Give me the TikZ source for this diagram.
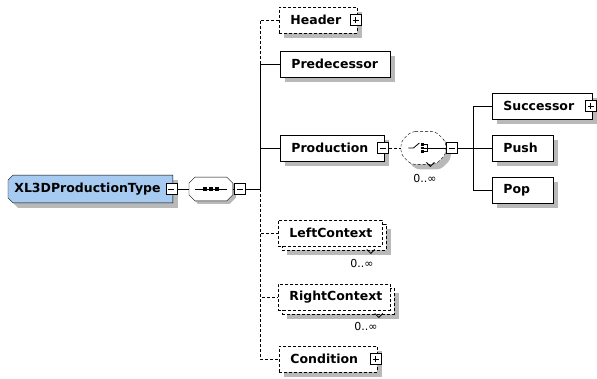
\documentclass[tikz,border=0pt]{standalone}
\usepackage{fontspec}
\setmainfont{DejaVu Sans}
\usepackage{tikz}
\usetikzlibrary{shadows, backgrounds}
\definecolor{typefill}{RGB}{166, 202, 240}
\definecolor{shadowgray}{RGB}{185, 185, 185}

\begin{document}
\begin{tikzpicture}[x=1pt, y=-1pt, line width=0.8pt,
    shadowed/.style={drop shadow={shadow xshift=#1, shadow yshift=-#1, fill=shadowgray, opacity=1}},
    shadowed/.default=5pt,
    optline/.style={dash pattern=on 3pt off 2pt},
    elem/.style={draw, fill=white, anchor=west, align=left, minimum height=26pt,
        inner xsep=11pt, inner ysep=0pt, font=\bfseries\fontsize{12.5}{14}\selectfont},
    need/.style={elem, shadowed},
    opt/.style={elem, optline, shadowed},
    rep/.style={elem, optline, shadowed=9pt,
        copy shadow={shadow xshift=4pt, shadow yshift=-4pt, line width=0.8pt}},
    hold/.style={rectangle, anchor=west, inner sep=0pt},
    minus/.style={draw, fill=white, minimum size=11pt, inner sep=0pt, line width=0.6pt,
        path picture={\draw[line width=0.7pt] ([xshift=2.5pt]path picture bounding box.west)
            -- ([xshift=-2.5pt]path picture bounding box.east);}},
    plus/.style={draw, fill=white, minimum size=11pt, inner sep=0pt, line width=0.6pt,
        path picture={\draw[line width=0.7pt] ([xshift=2.5pt]path picture bounding box.west)
            -- ([xshift=-2.5pt]path picture bounding box.east)
            ([yshift=2.5pt]path picture bounding box.south)
            -- ([yshift=-2.5pt]path picture bounding box.north);}},
    occ/.style={font=\fontsize{11}{12}\selectfont, inner sep=0pt}]
    \useasboundingbox (0,0) rectangle (597,379);

    % Complex type
    \node[elem, draw=none, fill=none, inner xsep=6pt, minimum height=27pt, text width=152pt]
        (type) at (8,189) {XL3DProductionType};
    \node[minus] (typebtn) at ([xshift=-1.5pt]type.east) {};

    % Sequence
    \node[hold, minimum width=43pt, minimum height=23pt] (seq) at (189,189) {};
    \draw ([xshift=6pt]seq.west) -- ([xshift=-6pt]seq.east);
    \foreach \dx in {-6,0,6}
        \fill ([xshift=\dx pt]seq.center) ++(-1.7,-1.7) rectangle ++(3.4,3.4);
    \node[minus] (seqbtn) at ([xshift=7pt]seq.east) {};
    \coordinate (trunk) at (260,189);
    \draw (typebtn) -- (seq);
    \draw (seq) -- (seqbtn);
    \draw (seqbtn) -- (trunk);

    % Children of the sequence
    \node[opt, text width=56pt] (header) at (279,20) {Header};
    \node[plus] (headerbtn) at ([xshift=-2pt]header.east) {};
    \node[need, text width=88pt] (pred) at (280,64) {Predecessor};
    \node[need, text width=82pt] (prod) at (280,148) {Production};
    \node[minus] (prodbtn) at ([xshift=-2pt]prod.east) {};
    \node[rep, text width=82pt] (left) at (278,233) {LeftContext};
    \node[rep, text width=90pt] (right) at (278,297) {RightContext};
    \node[opt, text width=76pt] (cond) at (279,359) {Condition};
    \node[plus] (condbtn) at ([xshift=-2pt]cond.east) {};
    \foreach \n in {header, left, right, cond}
        \draw[optline] (trunk) |- (\n.west);
    \foreach \n in {pred, prod}
        \draw (trunk) |- (\n.west);

    % Repetition marks
    \draw ([shift={(-16pt,-3pt)}]left.south east) -- ++(4,4) -- ++(4,-4);
    \draw ([shift={(-16pt,-3pt)}]right.south east) -- ++(4,4) -- ++(4,-4);
    \node[occ] (leftocc) at (362,263) {0..∞};
    \node[occ] (rightocc) at (366,326) {0..∞};

    % Choice
    \node[hold, minimum width=44pt, minimum height=32pt] (choice) at (401,148) {};
    \draw[optline] (prodbtn) -- (choice);
    \begin{scope}[shift={(choice.center)}]
        \draw (-15,0) -- (-10,0) -- (-4,-5);
        \foreach \y in {-3.5,0,3.5}
            \fill (-2.5,\y-1.3) rectangle (0.5,\y+1.3);
        \draw (0.5,-3.5) -- (3.5,-3.5) -- (3.5,3.5) -- (0.5,3.5) (0.5,0) -- (3.5,0);
        \coordinate (chout) at (3.5,0);
    \end{scope}
    \node[minus] (choicebtn) at ([xshift=6pt]choice.east) {};
    \draw (chout) -- (choicebtn);
    \draw ([shift={(3pt,2pt)}]choice.south) -- ++(4,4) -- ++(4,-4);
    \node[occ] (choiceocc) at (425,178) {0..∞};

    % Children of the choice
    \coordinate (branch) at (473,148);
    \draw (choicebtn) -- (branch);
    \node[need, text width=78pt] (succ) at (492,106) {Successor};
    \node[plus] (succbtn) at ([xshift=-2pt]succ.east) {};
    \node[need, text width=39pt] (push) at (492,148) {Push};
    \node[need, text width=39pt] (pop) at (492,190) {Pop};
    \foreach \n in {succ, push, pop}
        \draw (branch) |- (\n.west);

    % Outlines behind the type and the compositors
    \begin{pgfonlayer}{background}
        \draw[fill=typefill, shadowed] ([xshift=5pt]type.north west) -- (type.north east)
            -- (type.south east) -- ([xshift=5pt]type.south west)
            -- ([yshift=5pt]type.south west) -- ([yshift=-5pt]type.north west) -- cycle;
        \draw[fill=white, shadowed=3pt] ([xshift=6pt]seq.north west) -- ([xshift=-6pt]seq.north east)
            -- ([yshift=-6pt]seq.north east) -- ([yshift=6pt]seq.south east)
            -- ([xshift=-6pt]seq.south east) -- ([xshift=6pt]seq.south west)
            -- ([yshift=6pt]seq.south west) -- ([yshift=-6pt]seq.north west) -- cycle;
        \draw[fill=white, optline, shadowed, rounded corners=4pt]
            ([xshift=10pt]choice.north west) -- ([xshift=-10pt]choice.north east)
            -- ([yshift=-10pt]choice.north east) -- ([yshift=10pt]choice.south east)
            -- ([xshift=-10pt]choice.south east) -- ([xshift=10pt]choice.south west)
            -- ([yshift=10pt]choice.south west) -- ([yshift=-10pt]choice.north west) -- cycle;
    \end{pgfonlayer}
\end{tikzpicture}
\end{document}
